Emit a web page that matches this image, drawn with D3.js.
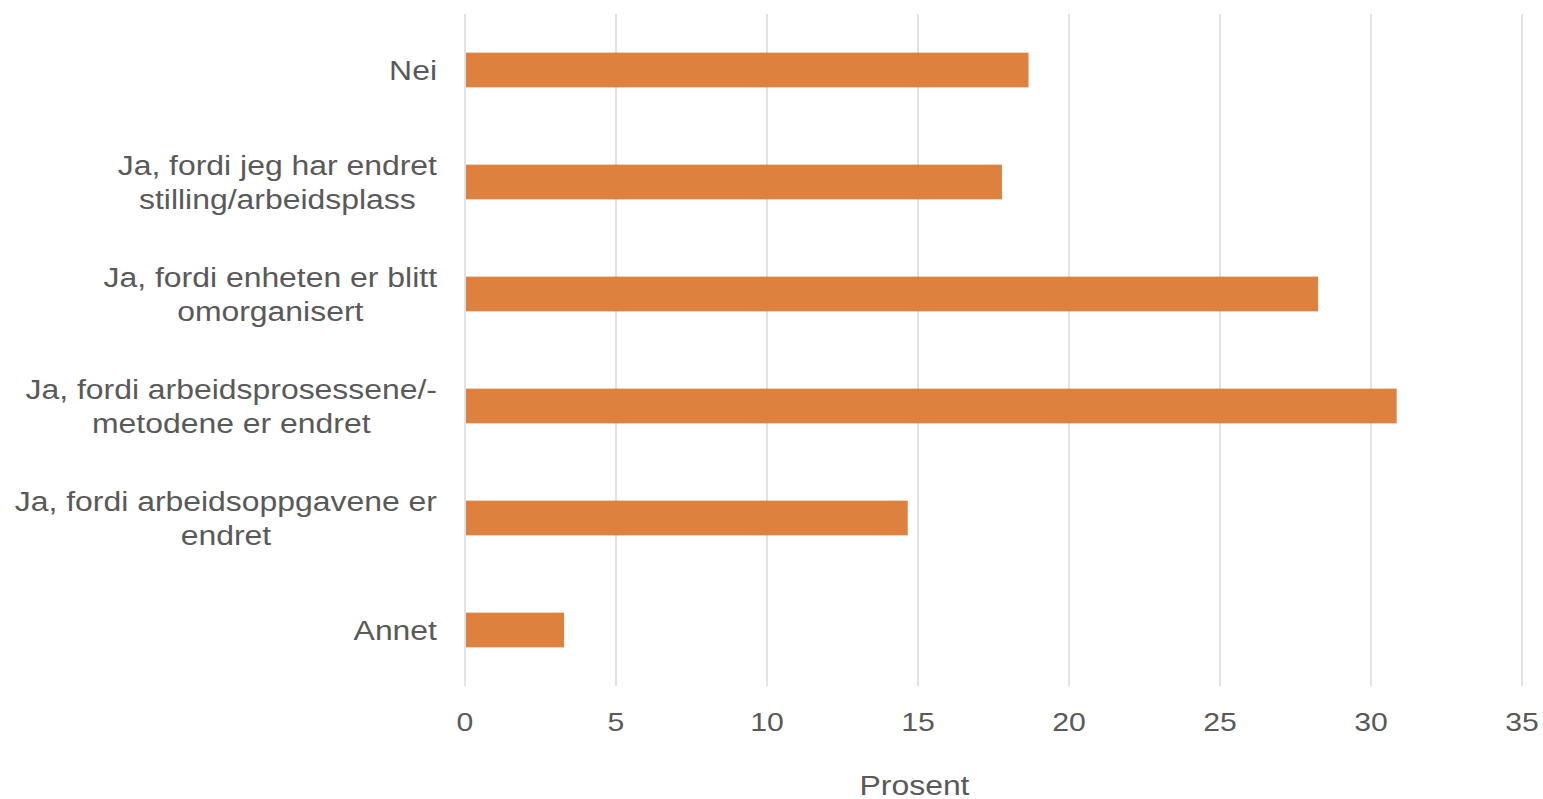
<!DOCTYPE html>
<html><head><meta charset="utf-8">
<script src="https://cdn.jsdelivr.net/npm/d3@7"></script>
<style>body{margin:0;background:#fff}svg{display:block}text{font-family:"Liberation Sans",Arial,sans-serif;fill:#595959}</style>
</head><body>
<svg id="c" width="1543" height="799"></svg>
<script>
const categories = [
  ["Nei"],
  ["Ja, fordi jeg har endret", "stilling/arbeidsplass"],
  ["Ja, fordi enheten er blitt", "omorganisert"],
  ["Ja, fordi arbeidsprosessene/-", "metodene er endret"],
  ["Ja, fordi arbeidsoppgavene er", "endret"],
  ["Annet"]
];
const values = [18.66, 17.78, 28.25, 30.85, 14.66, 3.28];
const xTicks = [0, 5, 10, 15, 20, 25, 30, 35];
const xTitle = "Prosent";

const svg = d3.select("#c");
const m = {left: 465, right: 1522, top: 14, bottom: 686};
const x = d3.scaleLinear().domain([0, 35]).range([m.left, m.right]);
const y = d3.scaleBand().domain(d3.range(categories.length)).range([m.top, m.bottom]).paddingInner(0.69).paddingOuter(0.345);
const SX = 1.14;

svg.append("g").selectAll("line").data(xTicks).join("line")
  .attr("x1", d => x(d)).attr("x2", d => x(d))
  .attr("y1", m.top).attr("y2", m.bottom)
  .attr("stroke", "#d9d9d9").attr("stroke-width", 1.5);

svg.append("g").selectAll("rect").data(values).join("rect")
  .attr("x", x(0) + 1).attr("y", (d, i) => y(i))
  .attr("width", d => x(d) - x(0) - 1).attr("height", y.bandwidth())
  .attr("fill", "#dc823e");

svg.append("g").selectAll("g").data(xTicks).join("g")
  .attr("transform", d => `translate(${x(d)},731) scale(${SX},1)`)
  .append("text").attr("text-anchor", "middle").attr("font-size", 26.5).text(d => d);

svg.append("g").attr("transform", `translate(914.5,795) scale(${SX},1)`)
  .append("text").attr("text-anchor", "middle").attr("font-size", 28).text(xTitle);

const lh = 35;
categories.forEach((lines, i) => {
  const cy = y(i) + y.bandwidth() / 2;
  const g = svg.append("g").attr("transform", `translate(437,${cy}) scale(${SX},1)`);
  const ts = lines.map((l, j) => g.append("text").attr("font-size", 28)
    .attr("y", (j - (lines.length - 1) / 2) * lh + 10).text(l));
  const widths = ts.map(t => t.node().getComputedTextLength());
  const w = d3.max(widths);
  ts.forEach(t => t.attr("text-anchor", "middle").attr("x", -w / 2));
});
</script>
</body></html>
